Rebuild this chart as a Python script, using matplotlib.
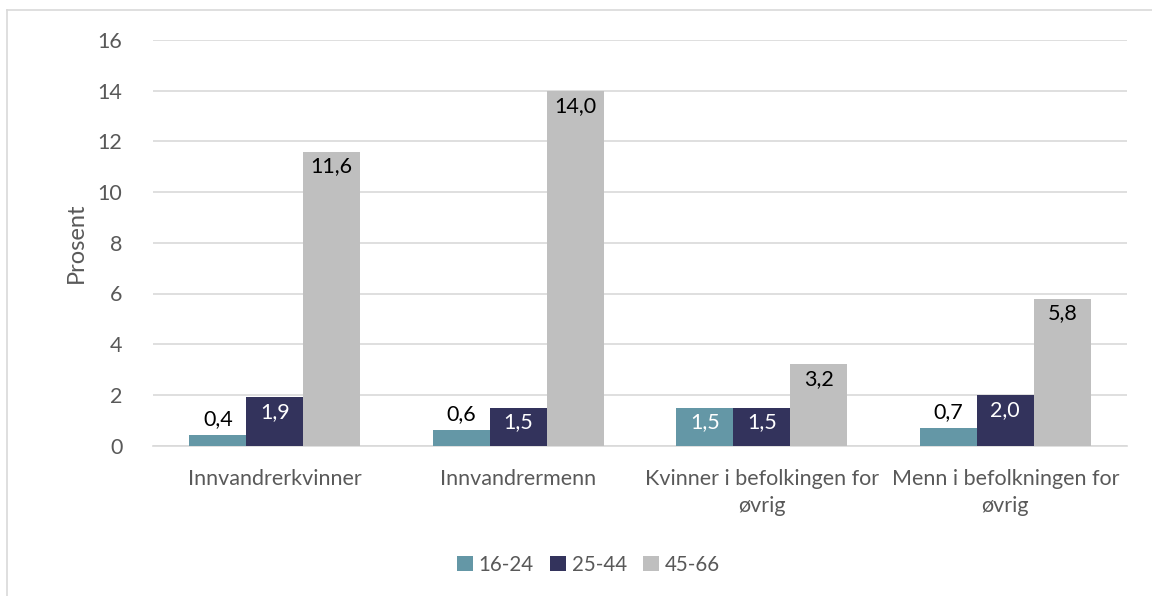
import numpy as np
import matplotlib
matplotlib.use("Agg")
import matplotlib.pyplot as plt
from matplotlib.lines import Line2D

# Data
categories = ["Innvandrerkvinner", "Innvandrermenn",
              "Kvinner i befolkingen for\nøvrig", "Menn i befolkningen for\nøvrig"]
series_names = ["16-24", "25-44", "45-66"]
age_16_24 = [0.4, 0.6, 1.5, 0.7]
age_25_44 = [1.9, 1.5, 1.5, 2.0]
age_45_66 = [11.6, 14.0, 3.2, 5.8]
colors = ["#6497A6", "#33335C", "#BFBFBF"]
label_colors_inside = ["white", "white", "black"]

plt.rcParams['font.family'] = ['Lato', 'DejaVu Sans']
text_gray = "#595959"
fs = 15.5

fig = plt.figure(figsize=(11.52, 5.96), dpi=100)
ax = fig.add_axes([153 / 1152, 1 - 445.6 / 596, (1127 - 153) / 1152, (445.6 - 40) / 596])

x = np.arange(len(categories))
width = 0.234
all_series = [age_16_24, age_25_44, age_45_66]
for i, vals in enumerate(all_series):
    pos = x + (i - 1) * width
    ax.bar(pos, vals, width=width, color=colors[i], label=series_names[i], zorder=3)
    for xp, v in zip(pos, vals):
        txt = f"{v:.1f}".replace(".", ",")
        if v >= 1.0:
            ax.annotate(txt, (xp, v), xytext=(0, -15), textcoords="offset pixels",
                        ha="center", va="center", fontsize=fs,
                        color=label_colors_inside[i], zorder=4)
        else:
            ax.annotate(txt, (xp, v), xytext=(0, 6), textcoords="offset pixels",
                        ha="center", va="bottom", fontsize=fs, color="black", zorder=4)

ax.set_xlim(-0.5, len(categories) - 0.5)
ax.set_ylim(0, 16)
ax.set_yticks(range(0, 17, 2))
ax.set_xticks(x)
ax.set_xticklabels(categories, fontsize=fs, color=text_gray, linespacing=1.4)
ax.tick_params(axis="y", labelsize=fs, labelcolor=text_gray, length=0, pad=22)
ax.tick_params(axis="x", length=0, pad=17)
ax.grid(axis="y", color="#D9D9D9", linewidth=1.2, zorder=0)
for s in ["top", "right", "left"]:
    ax.spines[s].set_visible(False)
ax.spines["bottom"].set_color("#D9D9D9")
ax.spines["bottom"].set_linewidth(1.2)
ax.set_ylabel("Prosent", fontsize=fs + 1.5, color=text_gray, labelpad=8)

fig.legend(loc="center", bbox_to_anchor=(0.511, 0.052), ncol=3, frameon=False,
           fontsize=fs - 0.7, labelcolor=text_gray, handlelength=0.75, handleheight=0.75,
           handletextpad=0.3, columnspacing=0.8)

# light chart-area border (top and left)
fig.add_artist(Line2D([7 / 1152, 7 / 1152], [0, 1 - 10 / 596], color="#D9D9D9", lw=1.2))
fig.add_artist(Line2D([7 / 1152, 1], [1 - 10 / 596, 1 - 10 / 596], color="#D9D9D9", lw=1.2))

fig.savefig("out.png", dpi=100)
